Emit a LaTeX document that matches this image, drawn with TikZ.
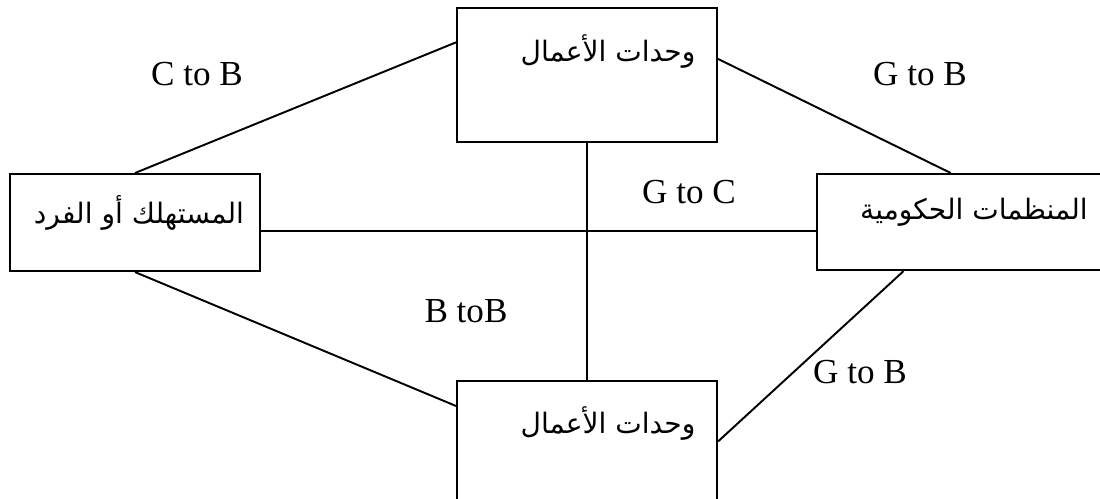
\documentclass[tikz,border=0pt]{standalone}
\usepackage{fontspec}
\setmainfont{Liberation Serif}
\newfontfamily\arabicfont[Script=Arabic]{DejaVu Sans}
\TeXXeTstate=1
\tikzset{
  box/.style={draw, line width=1.2pt, anchor=north west, inner sep=0pt},
  link/.style={line width=1.1pt},
  arlabel/.style={font=\arabicfont\fontsize{16}{19}\selectfont, inner sep=0pt},
  rel/.style={font=\fontsize{20}{24}\selectfont, inner sep=0pt}
}
\begin{document}
\begin{tikzpicture}[x=0.02cm,y=-0.02cm]
\clip (0,0) rectangle (1100,499);
% boxes
\node[box, minimum width=5.2cm, minimum height=2.68cm] (bustop) at (456,7) {};
\node[box, minimum width=5.0cm, minimum height=1.94cm] (cons) at (9,173) {};
\node[box, minimum width=5.8cm, minimum height=1.92cm] (gov) at (816,173) {};
\node[box, minimum width=5.2cm, minimum height=2.6cm] (busbot) at (456,380) {};
\node[arlabel] (bustopt) at (608,52) {\beginR وحدات الأعمال\endR};
\node[arlabel] (const) at (139,213) {\beginR المستهلك أو الفرد\endR};
\node[arlabel] (govt) at (974,212) {\beginR المنظمات الحكومية\endR};
\node[arlabel] (busbott) at (608,424) {\beginR وحدات الأعمال\endR};
% links
\draw[link] (cons.north) -- (bustop.166);
\draw[link] (bustop.7) -- (gov.103);
\draw[link] (bustop.south) -- (busbot.north);
\draw[link] (cons.-4) -- (cons.-4 -| gov.west);
\draw[link] (cons.south) -- (busbot.163);
\draw[link] (busbot.2) -- (gov.220);
% link labels
\node[rel] (c2b) at (197,74) {C to B};
\node[rel] (g2btop) at (920,74) {G to B};
\node[rel] (g2c) at (689,192) {G to C};
\node[rel] (b2b) at (466,311) {B toB};
\node[rel] (g2bbot) at (860,372) {G to B};
\end{tikzpicture}
\end{document}
